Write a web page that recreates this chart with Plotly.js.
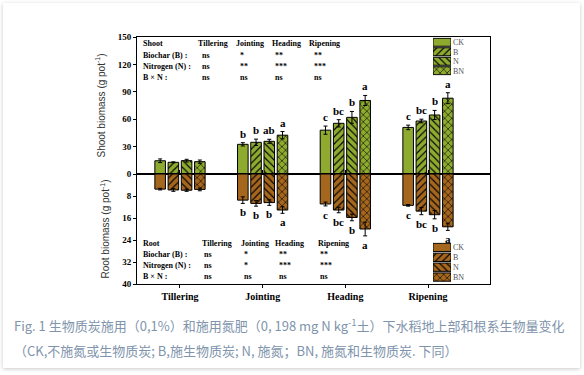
<!DOCTYPE html>
<html><head><meta charset="utf-8">
<script src="https://cdn.plot.ly/plotly-3.0.1.min.js"></script>
<style>
html,body{margin:0;padding:0;background:#fff;width:584px;height:375px;overflow:hidden}
#card{position:absolute;left:3px;top:3px;width:577px;height:365px;background:#fff;box-shadow:0 1px 4px rgba(0,0,0,0.22);}
#chart{position:absolute;left:0;top:0;width:584px;height:375px}
.cap{position:absolute;left:14px;font-family:"Noto Sans CJK SC","Noto Sans",sans-serif;font-size:13px;color:#8094ac;white-space:nowrap;line-height:16px}
.cap .sup{position:relative;top:-5px;font-size:9.5px}
</style></head>
<body>
<div id="card"></div>
<div id="chart"></div>
<div class="cap" style="top:318px">Fig. 1 生物质炭施用（0,1%）和施用氮肥（0, 198 mg N kg<span class="sup">-1</span>土）下水稻地上部和根系生物量变化</div>
<div class="cap" style="top:343px">（CK,不施氮或生物质炭; B,施生物质炭; N, 施氮；BN, 施氮和生物质炭. 下同）</div>
<script>
// ---- data ----
const stages = ['Tillering','Jointing','Heading','Ripening'];
const treatments = ['CK','B','N','BN'];
const patterns = ['', '/', '\\', 'x'];

const shootCK = [14.5, 32.5, 48.0, 51.0];
const shootB  = [12.8, 34.7, 55.5, 58.0];
const shootN  = [14.6, 35.8, 62.0, 64.6];
const shootBN = [13.5, 42.5, 80.5, 83.0];
const shootCKerr = [2.0, 1.8, 4.5, 2.5];
const shootBerr  = [0.5, 3.5, 4.0, 2.0];
const shootNerr  = [1.5, 2.2, 6.5, 5.0];
const shootBNerr = [1.8, 4.0, 5.5, 6.0];
const shootCKlet = ['', 'b', 'c', 'c'];
const shootBlet  = ['', 'b', 'bc', 'bc'];
const shootNlet  = ['', 'ab', 'b', 'b'];
const shootBNlet = ['', 'a', 'a', 'a'];

const rootCK = [5.5, 9.5, 10.9, 11.4];
const rootB  = [5.8, 10.7, 13.1, 13.5];
const rootN  = [5.9, 10.4, 15.8, 14.8];
const rootBN = [5.6, 13.1, 20.0, 19.2];
const rootCKerr = [0.3, 1.2, 0.7, 0.3];
const rootBerr  = [0.5, 1.0, 1.0, 1.3];
const rootNerr  = [0.4, 1.0, 1.2, 1.5];
const rootBNerr = [0.5, 1.2, 2.5, 1.3];
const rootCKlet = ['', 'b', 'c', 'c'];
const rootBlet  = ['', 'b', 'bc', 'bc'];
const rootNlet  = ['', 'b', 'b', 'b'];
const rootBNlet = ['', 'a', 'a', 'a'];

const shootRowLabels = ['Biochar (B) :', 'Nitrogen (N) :', 'B × N :'];
const shootSigB   = ['ns', '*', '**', '**'];
const shootSigN   = ['ns', '**', '***', '***'];
const shootSigBxN = ['ns', 'ns', 'ns', 'ns'];
const rootRowLabels = ['Biochar (B) :', 'Nitrogen (N) :', 'B × N :'];
const rootSigB   = ['ns', '*', '**', '**'];
const rootSigN   = ['ns', '*', '***', '***'];
const rootSigBxN = ['ns', 'ns', 'ns', 'ns'];

// ---- style ----
const GREEN = '#8eab2f';
const BROWN = '#a5661e';
const BARGAP = 0.36;
const serif = 'Liberation Serif, Times New Roman, serif';
const L = 137, R = 490, T = 37, B = 284;
const px = v => (v - L) / (R - L);
const py = v => (B - v) / (B - T);

const shootMeans = [shootCK, shootB, shootN, shootBN];
const shootErrs = [shootCKerr, shootBerr, shootNerr, shootBNerr];
const shootLets = [shootCKlet, shootBlet, shootNlet, shootBNlet];
const rootMeans = [rootCK, rootB, rootN, rootBN];
const rootErrs = [rootCKerr, rootBerr, rootNerr, rootBNerr];
const rootLets = [rootCKlet, rootBlet, rootNlet, rootBNlet];

const traces = [];
function addBars(means, errs, color, yax) {
  treatments.forEach((t, i) => {
    traces.push({
      type: 'bar', name: t, x: stages, y: means[i], xaxis: 'x', yaxis: yax,
      marker: { color: color, line: { color: '#000', width: 1 },
        pattern: { shape: patterns[i], fgcolor: '#000', bgcolor: color, size: 5, solidity: 0.22 } },
      error_y: { type: 'data', array: errs[i], color: '#000', thickness: 1, width: 2 },
      hoverinfo: 'skip', showlegend: false
    });
  });
}
addBars(shootMeans, shootErrs, GREEN, 'y');
addBars(rootMeans, rootErrs, BROWN, 'y2');

// legend swatches
function addSwatch(color, xa, ya) {
  traces.push({
    type: 'bar', orientation: 'h', y: treatments, x: treatments.map(() => 1),
    xaxis: xa, yaxis: ya, width: 0.84,
    marker: { color: color, line: { color: '#000', width: 1 },
      pattern: { shape: patterns, fgcolor: '#000', bgcolor: color, size: 5, solidity: 0.22 } },
    hoverinfo: 'skip', showlegend: false
  });
}
addSwatch(GREEN, 'x2', 'y3');
addSwatch(BROWN, 'x3', 'y4');

// annotations
const ann = [];
const slot = (1 - BARGAP) / 4;
const letFont = { family: serif, size: 11, weight: 'bold', color: '#000' };
stages.forEach((s, ci) => {
  treatments.forEach((t, ti) => {
    const xx = ci + (ti - 1.5) * slot;
    if (shootLets[ti][ci]) ann.push({ xref: 'x', yref: 'y', x: xx, y: shootMeans[ti][ci] + shootErrs[ti][ci],
      text: shootLets[ti][ci], showarrow: false, yanchor: 'bottom', yshift: 1, font: letFont });
    if (rootLets[ti][ci]) ann.push({ xref: 'x', yref: 'y2', x: xx, y: rootMeans[ti][ci] + rootErrs[ti][ci],
      text: rootLets[ti][ci], showarrow: false, yanchor: 'top', yshift: -1, font: letFont });
  });
});

const tFont = { family: serif, size: 8, weight: 'bold', color: '#000' };
function table(title, rowLabels, sigs, rowsY, headX, valX) {
  ann.push({ xref: 'paper', yref: 'paper', x: px(141), y: py(rowsY[0]), text: title, showarrow: false, xanchor: 'left', yanchor: 'middle', font: tFont });
  stages.forEach((s, i) => ann.push({ xref: 'paper', yref: 'paper', x: px(headX[i]), y: py(rowsY[0]), text: s, showarrow: false, xanchor: 'left', yanchor: 'middle', font: tFont }));
  rowLabels.forEach((r, ri) => {
    ann.push({ xref: 'paper', yref: 'paper', x: px(141), y: py(rowsY[ri + 1]), text: r, showarrow: false, xanchor: 'left', yanchor: 'middle', font: tFont });
    sigs[ri].forEach((v, i) => ann.push({ xref: 'paper', yref: 'paper', x: px(valX[i]), y: py(rowsY[ri + 1]), text: v, showarrow: false, xanchor: 'left', yanchor: 'middle', font: tFont }));
  });
}
table('Shoot', shootRowLabels, [shootSigB, shootSigN, shootSigBxN], [43.5, 55.5, 66.5, 77.5], [196, 234, 270, 307], [200, 238, 273, 312]);
table('Root', rootRowLabels, [rootSigB, rootSigN, rootSigBxN], [243, 254.5, 265.5, 276.5], [200, 239, 273, 316], [202, 242, 277, 318]);

const tickFont = { family: serif, size: 9, weight: 'bold', color: '#000' };
const titleFont = { family: 'Liberation Sans, Arial, sans-serif', size: 10, color: '#333' };
const legTick = { family: serif, size: 8, color: '#555' };
const layout = {
  width: 584, height: 375, margin: { l: L, r: 584 - R, t: T, b: 375 - B },
  paper_bgcolor: 'rgba(0,0,0,0)', plot_bgcolor: 'rgba(0,0,0,0)',
  barmode: 'group', bargap: BARGAP, bargroupgap: 0.2, showlegend: false,
  xaxis: { type: 'category', categoryarray: stages, range: [-0.52, 3.75], anchor: 'y2',
    showline: true, linecolor: '#000', linewidth: 1, mirror: 'all', ticks: 'outside', ticklen: 3, tickcolor: '#000',
    tickfont: { family: serif, size: 10, weight: 'bold', color: '#000' }, showgrid: false, zeroline: false, fixedrange: true },
  yaxis: { domain: [py(174), 1], range: [0, 150], dtick: 30, anchor: 'x',
    showline: true, linecolor: '#000', linewidth: 1, mirror: true, ticks: 'outside', ticklen: 3, tickcolor: '#000',
    tickfont: tickFont, showgrid: false, zeroline: false,
    title: { text: 'Shoot biomass (g pot<sup>-1</sup>)', font: titleFont, standoff: 10 } },
  yaxis2: { domain: [0, py(174)], range: [40, 0], tickvals: [8, 16, 24, 32, 40], anchor: 'x',
    showline: true, linecolor: '#000', linewidth: 1, mirror: true, ticks: 'outside', ticklen: 3, tickcolor: '#000',
    tickfont: tickFont, showgrid: false, zeroline: false,
    title: { text: 'Root biomass (g pot<sup>-1</sup>)', font: titleFont, standoff: 10 } },
  xaxis2: { domain: [px(433), px(451)], range: [0, 1], visible: false, anchor: 'y3' },
  yaxis3: { domain: [py(75.5), py(37.5)], type: 'category', categoryarray: treatments, autorange: 'reversed', anchor: 'x2', side: 'right',
    tickmode: 'array', tickvals: treatments, ticktext: treatments,
    showline: false, showgrid: false, zeroline: false, ticks: '', ticklabelstandoff: 1, tickfont: legTick },
  xaxis3: { domain: [px(433), px(451)], range: [0, 1], visible: false, anchor: 'y4' },
  yaxis4: { domain: [py(282), py(242.5)], type: 'category', categoryarray: treatments, autorange: 'reversed', anchor: 'x3', side: 'right',
    tickmode: 'array', tickvals: treatments, ticktext: treatments,
    showline: false, showgrid: false, zeroline: false, ticks: '', ticklabelstandoff: 1, tickfont: legTick },
  annotations: ann
};
Plotly.newPlot('chart', traces, layout, { staticPlot: true, displayModeBar: false });
</script>
</body></html>
